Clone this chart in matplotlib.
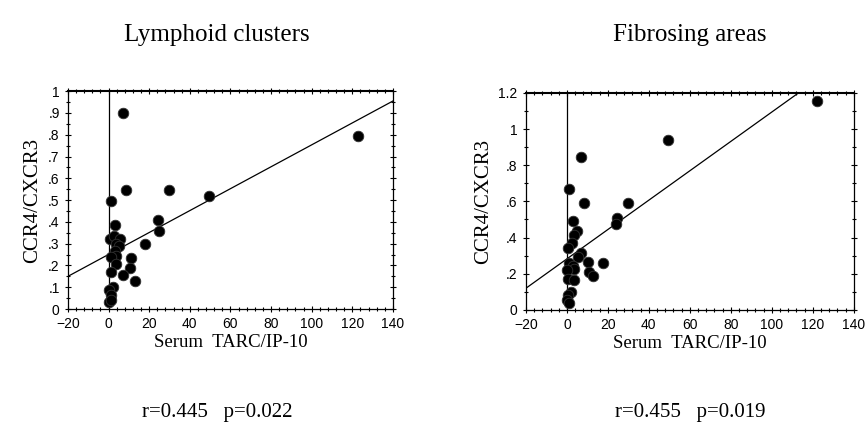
import matplotlib.pyplot as plt
from matplotlib.ticker import MultipleLocator, FuncFormatter

# Lymphoid clusters
lym_x = [6.9, 122.8, 8.7, 29.8, 49.6, 1.3, 24.2, 24.9, 3.1, 17.9, 0.5, 2.6, 5.7,
         3.6, 4.9, 3.3, 3.6, 1.3, 11.0, 10.5, 3.4, 1.0, 6.9, 12.8, 2.3, 0.3, 1.0,
         0.0, 1.3]
lym_y = [0.90, 0.795, 0.545, 0.545, 0.518, 0.495, 0.407, 0.358, 0.384, 0.30, 0.32,
         0.335, 0.32, 0.30, 0.29, 0.265, 0.245, 0.24, 0.233, 0.19, 0.208, 0.17,
         0.155, 0.13, 0.10, 0.089, 0.066, 0.032, 0.04]
lym_fit = (0.2506, 0.00503)  # intercept, slope

# Fibrosing areas
fib_x = [122.1, 49.4, 6.7, 1.0, 8.5, 29.6, 24.6, 24.2, 3.1, 4.9, 3.4, 2.6, 0.3,
         7.0, 5.4, 10.4, 17.7, 0.8, 3.1, 3.7, 0.2, 10.7, 12.5, 0.3, 3.4, 1.8,
         0.3, 0.0, 0.8]
fib_y = [1.156, 0.939, 0.843, 0.67, 0.589, 0.589, 0.506, 0.475, 0.493, 0.436,
         0.412, 0.368, 0.344, 0.313, 0.294, 0.267, 0.258, 0.261, 0.245, 0.228,
         0.221, 0.212, 0.188, 0.169, 0.166, 0.101, 0.083, 0.052, 0.040]
fib_fit = (0.282, 0.00812)

titles = ["Lymphoid clusters", "Fibrosing areas"]
stats = ["r=0.445   p=0.022", "r=0.455   p=0.019"]

serif = "Liberation Serif"
tickfont = ["Liberation Sans Narrow", "Liberation Sans", "DejaVu Sans"]


def ylab(v, pos):
    s = f"{v:g}"
    if s.startswith("0."):
        s = s[1:]
    return s


fig = plt.figure(figsize=(8.65, 4.34), dpi=100)
axes_pos = [[0.0786, 0.288, 0.3757, 0.502], [0.608, 0.286, 0.379, 0.500]]
text_x = [217 / 865, 690 / 865]
datasets = [(lym_x, lym_y, lym_fit, 1.0, 0.1), (fib_x, fib_y, fib_fit, 1.2, 0.2)]

for pos, tx, (xs, ys, fit, ymax, ystep), title, st in zip(axes_pos, text_x, datasets, titles, stats):
    ax = fig.add_axes(pos)
    ax.scatter(xs, ys, s=58, c="black", edgecolors="#333333", linewidths=0.6, zorder=3)
    ax.axvline(0, color="black", linewidth=0.9)
    lx = [-20, 140]
    ax.plot(lx, [fit[0] + fit[1] * v for v in lx], color="black", linewidth=0.9)
    ax.set_xlim(-20, 140)
    ax.set_ylim(0, ymax)
    ax.xaxis.set_major_locator(MultipleLocator(20))
    ax.xaxis.set_minor_locator(MultipleLocator(4))
    ax.yaxis.set_major_locator(MultipleLocator(ystep))
    ax.yaxis.set_minor_locator(MultipleLocator(ystep / 2))
    ax.yaxis.set_major_formatter(FuncFormatter(ylab))
    ax.tick_params(which="both", top=True, right=True, direction="inout", width=0.8)
    ax.tick_params(which="major", length=5, labelsize=10)
    ax.tick_params(which="minor", length=3)
    for lab in ax.get_xticklabels() + ax.get_yticklabels():
        lab.set_family(tickfont)
    for sp in ax.spines.values():
        sp.set_linewidth(0.9)
    ax.spines["top"].set_linewidth(1.5)
    ax.set_xlabel("Serum  TARC/IP-10", fontsize=13.5, family=serif, labelpad=2)
    ax.set_ylabel("CCR4/CXCR3", fontsize=15, family=serif, labelpad=4)
    fig.text(tx, 1 - 35 / 434, title, ha="center", va="center", fontsize=18, family=serif)
    fig.text(tx, 1 - 412 / 434, st, ha="center", va="center", fontsize=15, family=serif)

fig.savefig("out.png", dpi=100)
